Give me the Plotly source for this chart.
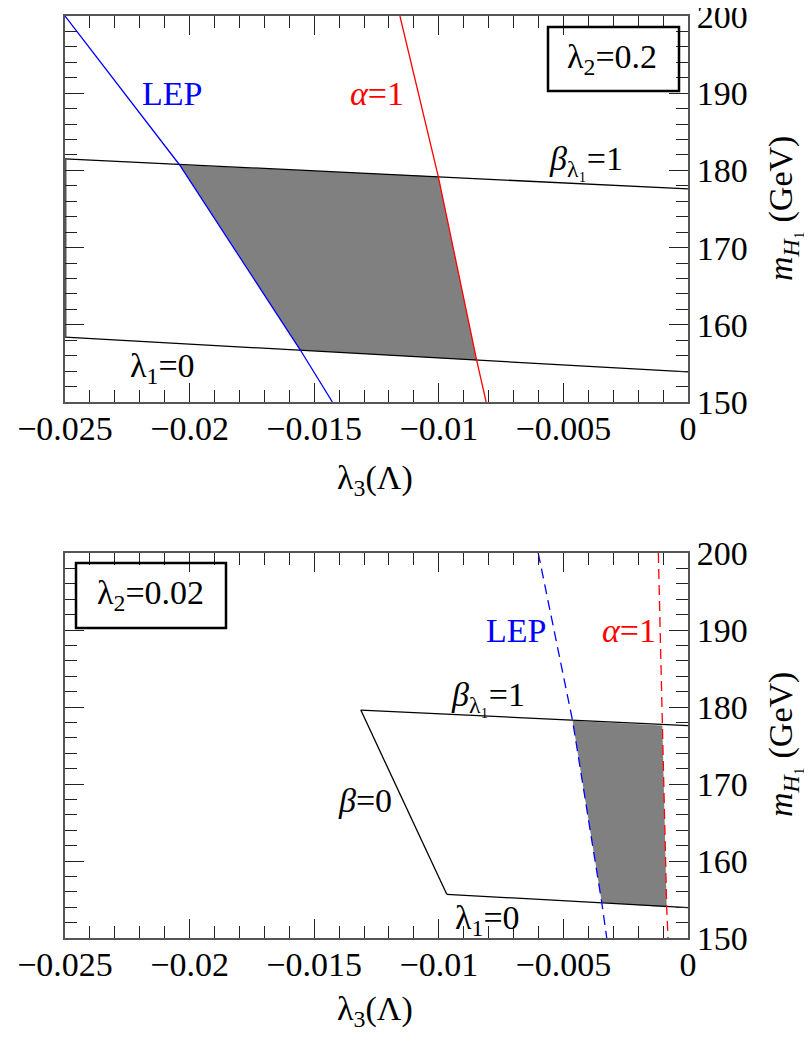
import plotly.graph_objects as go

# ---------------- data ----------------
x_ticks = [-0.025, -0.02, -0.015, -0.01, -0.005, 0]
x_tick_text = ["\u22120.025", "\u22120.02", "\u22120.015", "\u22120.01", "\u22120.005", "0"]
y_ticks = [150, 160, 170, 180, 190, 200]

# top panel (lambda2 = 0.2)
top_beta_x = [-0.025, 0.0]
top_beta_y = [181.5, 177.6]
top_lam1_x = [-0.025, 0.0]
top_lam1_y = [158.4, 153.9]
top_edge_x = [-0.025, -0.025]
top_edge_y = [158.4, 181.5]
top_lep_x = [-0.025, -0.0224, -0.0204, -0.01555, -0.01427]
top_lep_y = [200, 189.1, 180.7, 156.7, 150]
top_alpha_x = [-0.01156, -0.01002, -0.00848, -0.0081]
top_alpha_y = [200, 179.2, 155.4, 150]
top_region_x = [-0.0204, -0.01002, -0.00848, -0.01555]
top_region_y = [180.7, 179.2, 155.4, 156.7]

# bottom panel (lambda2 = 0.02)
bot_beta_x = [-0.01313, 0.0]
bot_beta_y = [179.6, 177.57]
bot_beta0_x = [-0.01313, -0.00968]
bot_beta0_y = [179.6, 155.67]
bot_lam1_x = [-0.00968, 0.0]
bot_lam1_y = [155.67, 153.94]
bot_lep_x = [-0.00601, -0.00463, -0.00346, -0.00326]
bot_lep_y = [200, 178.2, 154.6, 150]
bot_alpha_x = [-0.00119, -0.00103, -0.000855, -0.000803]
bot_alpha_y = [200, 177.6, 154.0, 150]
bot_region_x = [-0.00463, -0.00103, -0.000855, -0.00346]
bot_region_y = [178.2, 177.6, 154.0, 154.6]

# ---------------- layout helpers ----------------
PAGE_W, PAGE_H = 812, 1041
BODY_M = 8                       # default page body margin
W, H = PAGE_W - 2 * BODY_M, PAGE_H - 2 * BODY_M
FONT = "Liberation Serif"
FS = 34
PX_L, PX_R = 65, 688             # screen pixels of plot frame
TOP_T, TOP_B = 16, 402
BOT_T, BOT_B = 553, 938


def px(x):
    return (x - BODY_M) / W


def py(y):
    return 1 - (y - BODY_M) / H


fig = go.Figure()


def line(xs, ys, color, ax, width=1.3, dash="solid"):
    fig.add_trace(go.Scatter(x=xs, y=ys, mode="lines",
                             line=dict(color=color, width=width, dash=dash),
                             xaxis=ax[0], yaxis=ax[1], showlegend=False,
                             hoverinfo="skip"))


def region(xs, ys, ax):
    fig.add_trace(go.Scatter(x=xs, y=ys, mode="lines", fill="toself",
                             fillcolor="#808080", line=dict(width=0, color="#808080"),
                             xaxis=ax[0], yaxis=ax[1], showlegend=False,
                             hoverinfo="skip"))


TOP = ("x", "y")
BOT = ("x2", "y2")

region(top_region_x, top_region_y, TOP)
line(top_beta_x, top_beta_y, "black", TOP)
line(top_lam1_x, top_lam1_y, "black", TOP)
line(top_edge_x, top_edge_y, "#555555", TOP, width=3)
line(top_lep_x, top_lep_y, "blue", TOP)
line(top_alpha_x, top_alpha_y, "red", TOP)

region(bot_region_x, bot_region_y, BOT)
line(bot_beta_x, bot_beta_y, "black", BOT)
line(bot_beta0_x, bot_beta0_y, "black", BOT)
line(bot_lam1_x, bot_lam1_y, "black", BOT)
line(bot_lep_x, bot_lep_y, "blue", BOT, dash="10px,6px")
line(bot_alpha_x, bot_alpha_y, "red", BOT, dash="10px,6px")


def xaxis(y_anchor):
    return dict(
        domain=[px(PX_L), px(PX_R)], range=[-0.025, 0], anchor=y_anchor,
        tickmode="array", tickvals=x_ticks, ticktext=x_tick_text,
        ticks="inside", ticklen=19, tickwidth=1, tickcolor="#222",
        minor=dict(dtick=0.001, tick0=0, ticks="inside", ticklen=12, tickwidth=1, tickcolor="#222"),
        showline=True, linecolor="#555", linewidth=2, mirror="ticks",
        showgrid=False, zeroline=False, automargin=False,
        ticklabeloverflow="allow", ticklabelstandoff=-5,
        tickfont=dict(family=FONT, size=FS, color="black"),
    )


def yaxis(dom, x_anchor):
    return dict(
        domain=dom, range=[150, 200], anchor=x_anchor, side="right",
        tickmode="array", tickvals=y_ticks, ticktext=[str(v) for v in y_ticks],
        ticks="inside", ticklen=19, tickwidth=1, tickcolor="#222",
        minor=dict(dtick=2, tick0=150, ticks="inside", ticklen=12, tickwidth=1, tickcolor="#222"),
        showline=True, linecolor="#555", linewidth=2, mirror="ticks",
        showgrid=False, zeroline=False, automargin=False,
        ticklabeloverflow="allow",
        tickfont=dict(family=FONT, size=FS, color="black"),
    )


fig.update_layout(
    width=W, height=H, margin=dict(l=0, r=0, t=0, b=0, autoexpand=False),
    paper_bgcolor="white", plot_bgcolor="white",
    xaxis=xaxis("y"), yaxis=yaxis([py(TOP_B), py(TOP_T)], "x"),
    xaxis2=xaxis("y2"), yaxis2=yaxis([py(BOT_B), py(BOT_T)], "x2"),
    font=dict(family=FONT, size=FS, color="black"),
)

ann = []


def label(text, x, y, color, xref, yref):
    ann.append(dict(text=text, x=x, y=y, xref=xref, yref=yref, showarrow=False,
                    xanchor="center", yanchor="middle",
                    font=dict(family=FONT, size=FS, color=color)))


def plabel(text, x, y, angle=0):
    ann.append(dict(text=text, x=px(x), y=py(y), xref="paper", yref="paper",
                    showarrow=False, xanchor="center", yanchor="middle", textangle=angle,
                    font=dict(family=FONT, size=FS, color="black")))


# top panel labels
label("LEP", -0.0207, 190.0, "blue", "x", "y")
label("<i>α</i>=1", -0.01248, 190.0, "red", "x", "y")
label("<i>β</i><sub>λ₁</sub>=1", -0.00409, 181.2, "black", "x", "y")
label("λ<sub>1</sub>=0", -0.02107, 154.4, "black", "x", "y")
# bottom panel labels
label("LEP", -0.0069, 190.0, "blue", "x2", "y2")
label("<i>α</i>=1", -0.00237, 190.0, "red", "x2", "y2")
label("<i>β</i><sub>λ₁</sub>=1", -0.00803, 181.3, "black", "x2", "y2")
label("<i>β</i>=0", -0.01296, 167.9, "black", "x2", "y2")
label("λ<sub>1</sub>=0", -0.00803, 152.3, "black", "x2", "y2")

# boxed lambda2 labels
plabel("λ<sub>2</sub>=0.2", 612, 59)
plabel("λ<sub>2</sub>=0.02", 150, 595)

# axis titles
plabel("λ<sub>3</sub>(Λ)", 375, 480)
plabel("λ<sub>3</sub>(Λ)", 375, 1011)
plabel("<i>m</i><sub><i>H</i>₁</sub> (GeV)", 783, 209, angle=-90)
plabel("<i>m</i><sub><i>H</i>₁</sub> (GeV)", 783, 745, angle=-90)

fig.update_layout(annotations=ann)

shapes = [
    dict(type="rect", xref="paper", yref="paper", x0=px(548), x1=px(679), y0=py(91), y1=py(27),
         line=dict(color="black", width=2.5), fillcolor="rgba(0,0,0,0)"),
    dict(type="rect", xref="paper", yref="paper", x0=px(76), x1=px(226), y0=py(628), y1=py(563),
         line=dict(color="black", width=2.5), fillcolor="rgba(0,0,0,0)"),
]
fig.update_layout(shapes=shapes)

fig.write_html("out.html")
